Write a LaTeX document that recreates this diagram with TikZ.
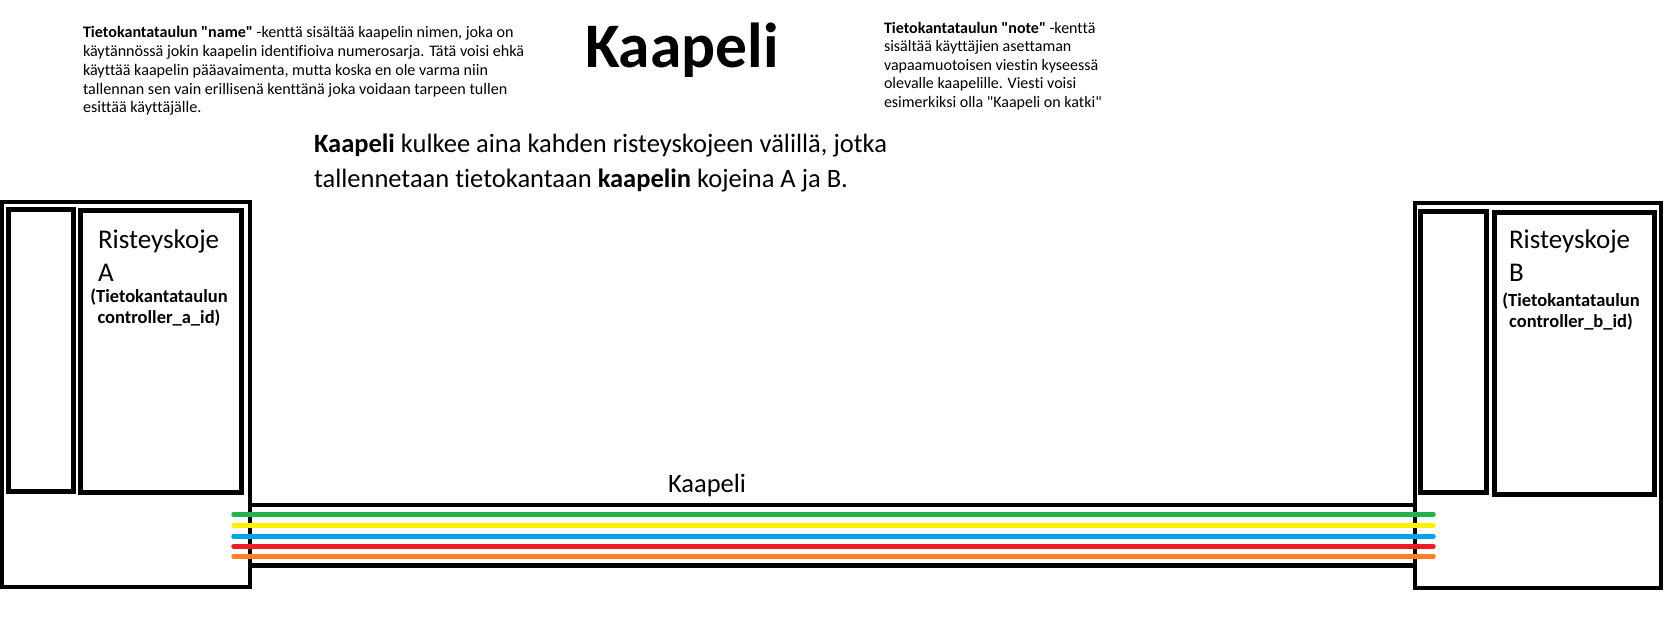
\documentclass[tikz,border=0pt]{standalone}
\usepackage{fontspec}
\setmainfont{Carlito}[Ligatures={TeXOff,CommonOff}]
\definecolor{wgreen}{HTML}{22B14C}
\definecolor{wyellow}{HTML}{FFF200}
\definecolor{wblue}{HTML}{00A2E8}
\definecolor{wred}{HTML}{ED1C24}
\definecolor{worange}{HTML}{FF7F27}
\begin{document}
\begin{tikzpicture}[x=1pt,y=-1pt,
  outerbox/.style={draw=black,line width=4pt,inner sep=0pt,outer sep=0pt},
  innerbox/.style={draw=black,line width=5pt,inner sep=0pt,outer sep=0pt},
  txt/.style={inner sep=0pt,outer sep=0pt,text=black},
  wire/.style={line width=4.5pt,line cap=round}]
\useasboundingbox[fill=white] (0,0) rectangle (1665,622);
% title and notes
\node[txt,anchor=base west,font=\fontsize{63.5}{76}\selectfont\bfseries] (title) at (585,67) {Kaapeli};
\node[txt,anchor=north west,align=left,font=\fontsize{16.1}{18.7}\selectfont] (nameNote) at (83,24.9)
 {\strut\textbf{Tietokantataulun "name"} -kenttä sisältää kaapelin nimen, joka on\\
 käytännössä jokin kaapelin identifioiva numerosarja. Tätä voisi ehkä\\
 käyttää kaapelin pääavaimenta, mutta koska en ole varma niin\\
 tallennan sen vain erillisenä kenttänä joka voidaan tarpeen tullen\\
 esittää käyttäjälle.};
\node[txt,anchor=north west,align=left,font=\fontsize{16}{18.5}\selectfont] (noteNote) at (884,20.35)
 {\strut\textbf{Tietokantataulun "note"} -kenttä\\
 sisältää käyttäjien asettaman\\
 vapaamuotoisen viestin kyseessä\\
 olevalle kaapelille. Viesti voisi\\
 esimerkiksi olla "Kaapeli on katki"};
\node[txt,anchor=north west,align=left,font=\fontsize{26.5}{35}\selectfont] (mainText) at (314,127.5)
 {\strut\textbf{Kaapeli} kulkee aina kahden risteyskojeen välillä, jotka\\
 tallennetaan tietokantaan \textbf{kaapelin} kojeina A ja B.};
% controller A
\node[outerbox,minimum width=248pt,minimum height=385.5pt] (boxA) at (126,394.25) {};
\node[innerbox,minimum width=65pt,minimum height=282pt] (boxAsmall) at (40.5,350.5) {};
\node[innerbox,minimum width=161pt,minimum height=282pt] (boxAbig) at (160.5,351.5) {};
\node[txt,anchor=north west,align=left,font=\fontsize{27}{33}\selectfont] (labelA) at (98,224.9)
 {\strut Risteyskoje\\A};
\node[txt,anchor=north,align=center,font=\fontsize{18.5}{21}\selectfont\bfseries] (idA) at (159,287.3)
 {\strut(Tietokantataulun\\controller\_a\_id)};
% controller B
\node[outerbox,minimum width=246pt,minimum height=385pt] (boxB) at (1538,395.5) {};
\node[innerbox,minimum width=66pt,minimum height=281pt] (boxBsmall) at (1453,351.5) {};
\node[innerbox,minimum width=160pt,minimum height=282pt] (boxBbig) at (1574,353) {};
\node[txt,anchor=north west,align=left,font=\fontsize{27}{33}\selectfont] (labelB) at (1509,224.9)
 {\strut Risteyskoje\\B};
\node[txt,anchor=north,align=center,font=\fontsize{18.5}{21}\selectfont\bfseries] (idB) at (1571,292)
 {\strut(Tietokantataulun\\controller\_b\_id)};
% cable
\node[outerbox,line width=4.5pt,minimum width=1165pt,minimum height=60.5pt] (cable) at (832.5,535.25) {};
\node[txt,anchor=base west,font=\fontsize{26.5}{31}\selectfont] (cableLabel) at (668,492) {Kaapeli};
% wires
\foreach \n/\yy in {1/514.5,2/525.3,3/536.3,4/546.3,5/556.5}{
  \coordinate (wA\n) at (233.5,\yy);
  \coordinate (wB\n) at (1433.5,\yy);
}
\draw[wire,wgreen] (wA1) -- (wB1);
\draw[wire,wyellow] (wA2) -- (wB2);
\draw[wire,wblue] (wA3) -- (wB3);
\draw[wire,wred] (wA4) -- (wB4);
\draw[wire,worange] (wA5) -- (wB5);
\end{tikzpicture}
\end{document}
